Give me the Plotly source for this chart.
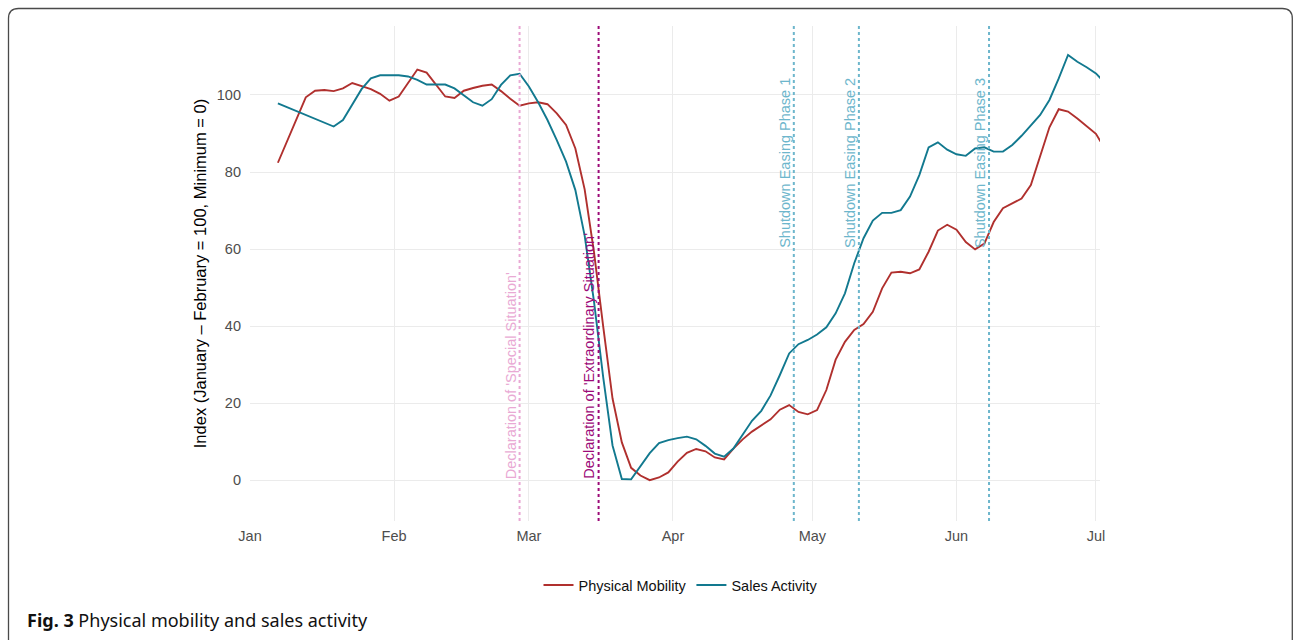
import pandas as pd
import plotly.graph_objects as go

# ---------------- data ----------------
dates = list(pd.date_range("2020-01-07", "2020-07-01", freq="2D").strftime("%Y-%m-%d")) + ["2020-07-02"]

physical_mobility = [
    82.4, 88.1, 93.7, 99.4, 101.1, 101.3, 101.0, 101.7, 103.1, 102.2,
    101.5, 100.3, 98.5, 99.6, 103.0, 106.6, 105.8, 102.6, 99.6, 99.2,
    101.1, 101.8, 102.4, 102.7, 101.0, 99.0, 97.2, 97.8, 98.1, 97.6,
    95.2, 92.2, 86.1, 75.5, 59.3, 39.8, 21.2, 9.8, 3.2, 1.2,
    0.0, 0.7, 2.0, 4.8, 7.1, 8.1, 7.5, 5.9, 5.4, 8.2,
    10.6, 12.6, 14.3, 15.8, 18.3, 19.5, 17.7, 17.1, 18.2, 23.4,
    31.3, 35.9, 39.0, 40.5, 43.7, 49.8, 53.9, 54.1, 53.7, 54.7,
    59.3, 64.8, 66.3, 65.0, 61.8, 59.9, 61.4, 67.0, 70.6, 71.8,
    73.1, 76.6, 84.0, 91.6, 96.3, 95.7, 93.9, 91.9, 89.9, 87.9,
]

sales_activity = [
    97.8, 96.8, 95.8, 94.8, 93.8, 92.8, 91.8, 93.5, 97.4, 101.5,
    104.3, 105.1, 105.1, 105.1, 104.8, 103.9, 102.7, 102.7, 102.7, 101.7,
    100.0, 98.1, 97.2, 98.9, 102.6, 105.1, 105.5, 102.2, 98.1, 93.5,
    88.3, 82.7, 75.3, 63.5, 46.5, 26.6, 9.0, 0.3, 0.2, 3.6,
    7.0, 9.6, 10.4, 10.9, 11.3, 10.6, 8.9, 6.9, 6.1, 8.2,
    11.9, 15.4, 18.0, 22.0, 27.3, 32.9, 35.3, 36.4, 37.8, 39.7,
    43.3, 48.5, 56.3, 62.8, 67.4, 69.4, 69.4, 70.1, 73.6, 79.2,
    86.4, 87.7, 85.8, 84.6, 84.2, 86.1, 86.4, 85.3, 85.3, 87.0,
    89.4, 92.2, 94.8, 98.7, 104.3, 110.4, 108.6, 107.2, 105.6, 104.3,
]

month_ticks = ["2020-01-01", "2020-02-01", "2020-03-01", "2020-04-01",
               "2020-05-01", "2020-06-01", "2020-07-01"]
month_labels = ["Jan", "Feb", "Mar", "Apr", "May", "Jun", "Jul"]
y_ticks = [0, 20, 40, 60, 80, 100]

event_dates = ["2020-02-28", "2020-03-16", "2020-04-27", "2020-05-11", "2020-06-08"]
event_labels = ["Declaration of 'Special Situation'",
                "Declaration of 'Extraordinary Situation'",
                "Shutdown Easing Phase 1",
                "Shutdown Easing Phase 2",
                "Shutdown Easing Phase 3"]
event_label_y = [0, 0, 60, 60, 60]
event_colors = ["#E9A9D4", "#9C0A78", "#6DB6CC", "#6DB6CC", "#6DB6CC"]

# ---------------- layout geometry (page pixels, body margin removed) ----------------
W, H = 1294, 640
L, R, T, B = 250, 1100, 26, 521          # plot area in page pixels
PW, PH = R - L, B - T


def px(x):
    return (x - L) / PW


def py(y):
    return (B - y) / PH


FONT = "Liberation Sans, Arial, sans-serif"
RED = "#B0302E"
TEAL = "#12798F"

fig = go.Figure()
fig.add_trace(go.Scatter(x=dates, y=physical_mobility, mode="lines",
                         name="Physical Mobility",
                         line=dict(color=RED, width=1.9)))
fig.add_trace(go.Scatter(x=dates, y=sales_activity, mode="lines",
                         name="Sales Activity",
                         line=dict(color=TEAL, width=1.9)))

shapes = []
annotations = []
for d, lab, yl, c in zip(event_dates, event_labels, event_label_y, event_colors):
    shapes.append(dict(type="line", xref="x", yref="paper", x0=d, x1=d, y0=0, y1=1,
                       line=dict(color=c, width=2, dash="dot"), layer="above"))
    annotations.append(dict(x=d, y=yl, xref="x", yref="y", text=lab, showarrow=False,
                            textangle=-90, xanchor="right", yanchor="bottom",
                            xshift=1, yshift=-1,
                            font=dict(family=FONT, size=14.5, color=c)))

# rounded border of the figure box
rx, ry = 10 / PW, 10 / PH
x0, x1 = px(8.5), px(1292.3)
yt, yb = py(8.5), py(700)
path = (f"M {x0},{yb} L {x0},{yt - ry} Q {x0},{yt} {x0 + rx},{yt} "
        f"L {x1 - rx},{yt} Q {x1},{yt} {x1},{yt - ry} L {x1},{yb}")
shapes.append(dict(type="path", xref="paper", yref="paper", path=path,
                   line=dict(color="#4a4a4a", width=1.3)))

annotations.append(dict(x=px(25), y=py(620), xref="paper", yref="paper",
                        xanchor="left", yanchor="middle", showarrow=False,
                        text="<b>Fig. 3</b> Physical mobility and sales activity",
                        font=dict(family="Noto Sans, Open Sans, sans-serif", size=18, color="#111111")))

fig.update_layout(
    width=W, height=H,
    margin=dict(l=L, r=W - R, t=T, b=H - B, autoexpand=False),
    paper_bgcolor="white", plot_bgcolor="white",
    font=dict(family=FONT, size=14.5, color="#4D4D4D"),
    showlegend=True,
    legend=dict(orientation="h", x=px(681), y=py(585), xanchor="center", yanchor="middle",
                font=dict(family=FONT, size=14.5, color="#111111"),
                bgcolor="rgba(0,0,0,0)", traceorder="normal"),
    shapes=shapes,
    annotations=annotations,
)

fig.update_xaxes(type="date", range=["2020-01-01", "2020-07-01 21:00"],
                 tickmode="array", tickvals=month_ticks, ticktext=month_labels,
                 showgrid=True, gridcolor="#EBEBEB", gridwidth=1.4,
                 zeroline=False, showline=False, ticks="",
                 ticklabelstandoff=4,
                 tickfont=dict(family=FONT, size=14.5, color="#4D4D4D"),
                 automargin=False)
fig.update_yaxes(range=[-10.6, 117.9], tickmode="array", tickvals=y_ticks,
                 showgrid=True, gridcolor="#EBEBEB", gridwidth=1.4,
                 zeroline=False, showline=False, ticks="",
                 ticklabelstandoff=8,
                 tickfont=dict(family=FONT, size=14.5, color="#4D4D4D"),
                 title=dict(text="Index (January \u2013 February = 100, Minimum = 0)",
                            font=dict(family=FONT, size=16.5, color="#000000"), standoff=6),
                 automargin=False)

fig.write_html("out.html",
               config={"displayModeBar": False},
               post_script="document.body.style.margin='0';document.body.style.overflow='hidden';")
